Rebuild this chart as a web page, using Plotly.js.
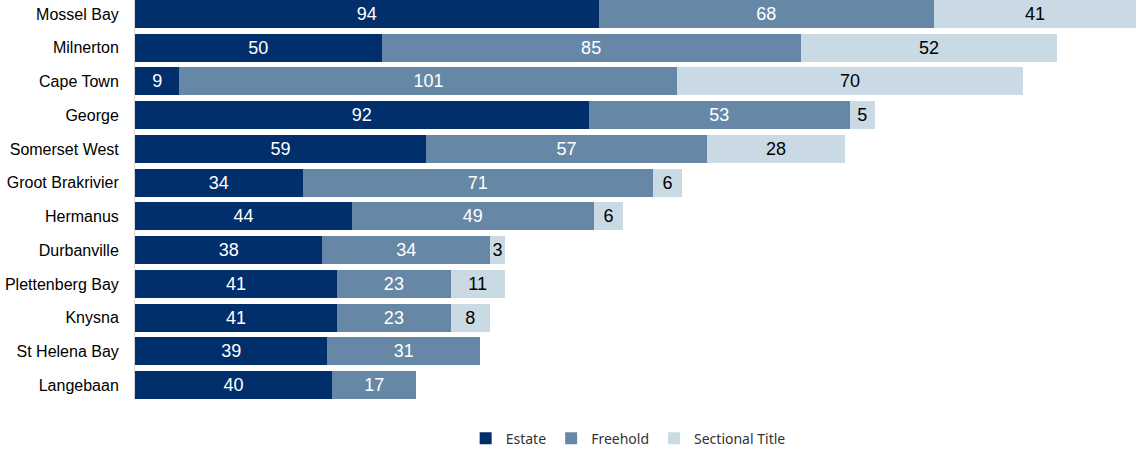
<!DOCTYPE html>
<html>
<head>
<meta charset="utf-8">
<script src="https://cdn.plot.ly/plotly-3.0.1.min.js"></script>
<style>html,body{margin:0;padding:0;background:#fff;}#chart{width:1138px;height:464px;}</style>
</head>
<body>
<div id="chart"></div>
<script>
const categories = ["Mossel Bay","Milnerton","Cape Town","George","Somerset West","Groot Brakrivier","Hermanus","Durbanville","Plettenberg Bay","Knysna","St Helena Bay","Langebaan"];
const estate = [94,50,9,92,59,34,44,38,41,41,39,40];
const freehold = [68,85,101,53,57,71,49,34,23,23,31,17];
const sectional = [41,52,70,5,28,6,6,3,11,8,null,null];
const seriesNames = ["Estate","Freehold","Sectional Title"];
const colors = ["#002F6C","#6688A6","#C9DAE4"];
const textColors = ["#FFFFFF","#FFFFFF","#000000"];

const series = [estate, freehold, sectional];
const traces = series.map((vals, i) => ({
  type: "bar",
  orientation: "h",
  name: seriesNames[i],
  y: categories,
  x: vals,
  marker: {color: colors[i], line: {width: 0}},
  text: vals.map(v => v == null ? "" : String(v)),
  textposition: "inside",
  insidetextanchor: "middle",
  constraintext: "none",
  textfont: {family: "Liberation Sans, Arial, sans-serif", size: 18, color: textColors[i]},
  hoverinfo: "x+y+name"
}));

const layout = {
  width: 1138,
  height: 464,
  barmode: "stack",
  bargap: 0.17,
  margin: {l: 135, r: 0, t: 0, b: 64},
  paper_bgcolor: "#fff",
  plot_bgcolor: "#fff",
  xaxis: {range: [0, 203.4], visible: false, showgrid: false, zeroline: false},
  yaxis: {
    type: "category",
    categoryorder: "array",
    categoryarray: categories,
    range: [11.44, -0.415],
    showgrid: false,
    zeroline: false,
    showline: true,
    linecolor: "#D9D9D9",
    linewidth: 1,
    ticks: "",
    ticklabelstandoff: 12,
    tickfont: {family: "Liberation Sans, Arial, sans-serif", size: 16, color: "#000"}
  },
  showlegend: true,
  legend: {
    orientation: "h",
    xref: "container",
    yref: "container",
    x: 0.552,
    xanchor: "center",
    y: 0.02,
    yanchor: "bottom",
    font: {family: "Noto Sans, Open Sans, sans-serif", size: 14, color: "#333"},
    traceorder: "normal",
    itemwidth: 30
  }
};

Plotly.newPlot("chart", traces, layout, {displayModeBar: false, staticPlot: true});
</script>
</body>
</html>
